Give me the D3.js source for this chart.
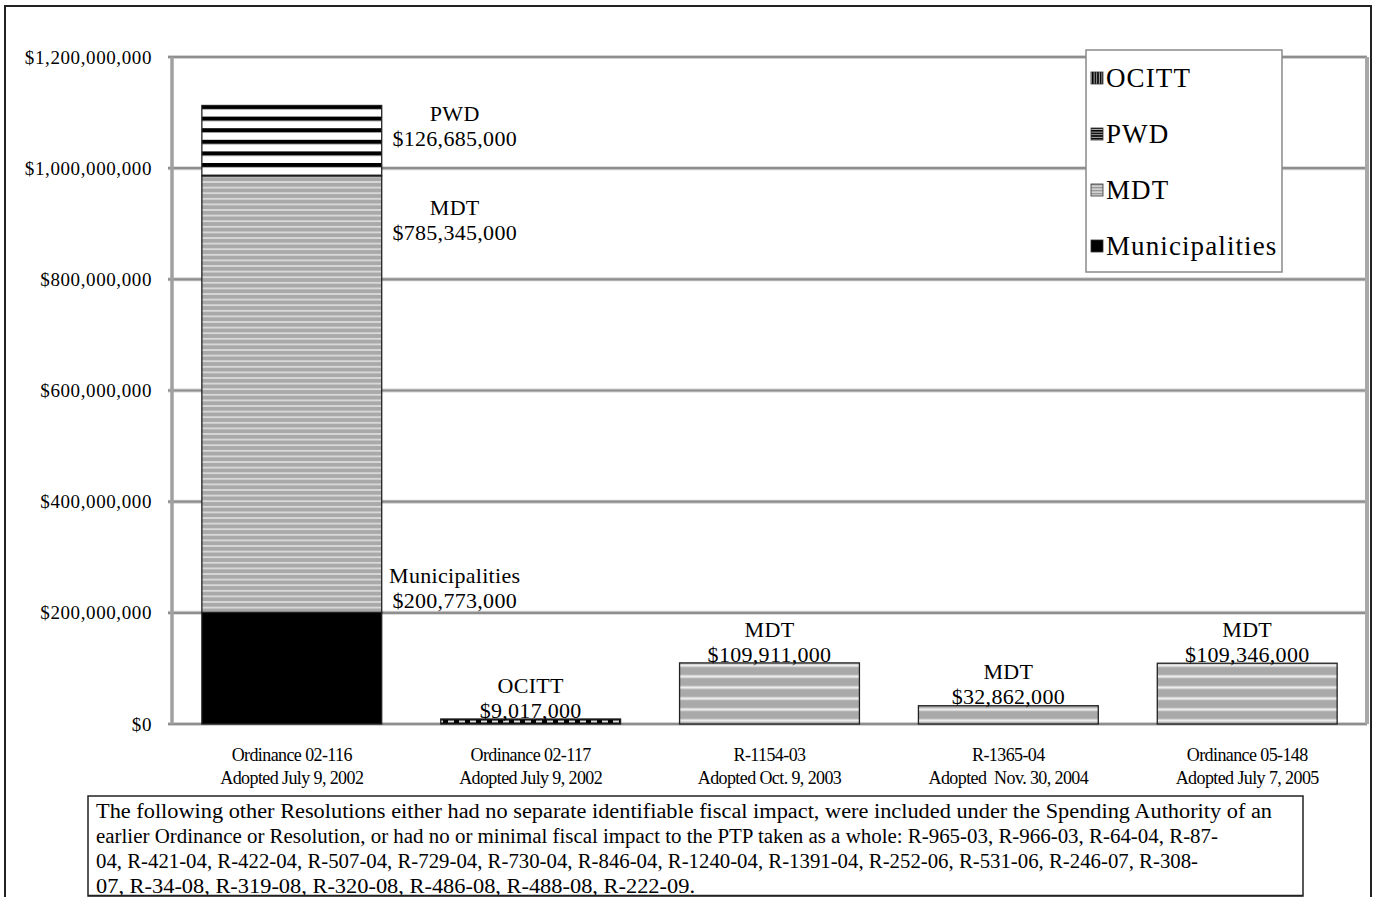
<!DOCTYPE html>
<html><head><meta charset="utf-8">
<script src="https://cdn.jsdelivr.net/npm/d3@7"></script>
<style>
html,body{margin:0;padding:0;background:#fff;}
svg{display:block;font-family:"Liberation Serif","Times New Roman",serif;}
</style></head>
<body><svg id="c" width="1375" height="897"></svg>
<script>
// ---------- data ----------
const catLine1 = ["Ordinance 02-116","Ordinance 02-117","R-1154-03","R-1365-04","Ordinance 05-148"];
const catLine2 = ["Adopted July 9, 2002","Adopted July 9, 2002","Adopted Oct. 9, 2003","Adopted  Nov. 30, 2004","Adopted July 7, 2005"];
const municipalities = [200773000, 0, 0, 0, 0];
const mdt            = [785345000, 0, 109911000, 32862000, 109346000];
const pwd            = [126685000, 0, 0, 0, 0];
const ocitt          = [0, 9017000, 0, 0, 0];
const seriesNames = ["Municipalities","MDT","PWD","OCITT"];
const yTicks = [0, 200000000, 400000000, 600000000, 800000000, 1000000000, 1200000000];
const footLines = [
 "The following other Resolutions either had no separate identifiable fiscal impact, were included under the Spending Authority of an",
 "earlier Ordinance or Resolution, or had no or minimal fiscal impact to the PTP taken as a whole: R-965-03, R-966-03, R-64-04, R-87-",
 "04, R-421-04, R-422-04, R-507-04, R-729-04, R-730-04, R-846-04, R-1240-04, R-1391-04, R-252-06, R-531-06, R-246-07, R-308-",
 "07, R-34-08, R-319-08, R-320-08, R-486-08, R-488-08, R-222-09."
];

// ---------- layout ----------
const svg = d3.select("#c");
const L = 172, R = 1367, T = 57, B = 724;
const x = d3.scaleBand().domain(d3.range(catLine1.length)).range([L, R]).paddingInner(0.247).paddingOuter(0.125);
const y = d3.scaleLinear().domain([0, 1200000000]).range([B, T]);
const fmt = v => "$" + d3.format(",")(v);

// patterns
const defs = svg.append("defs");
function mdtPattern(id, period){
  const p = defs.append("pattern").attr("id", id).attr("patternUnits","userSpaceOnUse")
    .attr("width", 8).attr("height", period);
  p.append("rect").attr("width",8).attr("height",period).attr("fill","#a9a9a9");
  p.append("rect").attr("y", period*0.33).attr("width",8).attr("height",period*0.34).attr("fill","#c6c6c6");
  p.append("rect").attr("y", period*0.42).attr("width",8).attr("height",period*0.16).attr("fill","#ededed");
}
mdtPattern("mdtS", 5.6);
mdtPattern("mdtL", 11);
const pw = defs.append("pattern").attr("id","pwdP").attr("patternUnits","userSpaceOnUse").attr("width",8).attr("height",11.6).attr("y",105);
pw.append("rect").attr("width",8).attr("height",11.6).attr("fill","#fff");
pw.append("rect").attr("width",8).attr("height",4.2).attr("fill","#000");
const oc = defs.append("pattern").attr("id","ocP").attr("patternUnits","userSpaceOnUse").attr("width",11).attr("height",8).attr("x",412).attr("y",718);
oc.append("rect").attr("width",11).attr("height",8).attr("fill","#000");
oc.append("rect").attr("x",3).attr("y",2.5).attr("width",6).attr("height",2).attr("fill","#ddd");
const ocL = defs.append("pattern").attr("id","ocLeg").attr("patternUnits","userSpaceOnUse").attr("width",2.6).attr("height",8);
ocL.append("rect").attr("width",2.6).attr("height",8).attr("fill","#000");
ocL.append("rect").attr("x",1.6).attr("width",0.9).attr("height",8).attr("fill","#ccc");
const pwL = defs.append("pattern").attr("id","pwLeg").attr("patternUnits","userSpaceOnUse").attr("width",8).attr("height",2.6).attr("y",130);
pwL.append("rect").attr("width",8).attr("height",2.6).attr("fill","#000");
pwL.append("rect").attr("y",1.6).attr("width",8).attr("height",0.9).attr("fill","#ccc");
const mdL = defs.append("pattern").attr("id","mdLeg").attr("patternUnits","userSpaceOnUse").attr("width",8).attr("height",3).attr("y",184);
mdL.append("rect").attr("width",8).attr("height",3).attr("fill","#999");
mdL.append("rect").attr("y",1.5).attr("width",8).attr("height",1.2).attr("fill","#e8e8e8");
defs.append("clipPath").attr("id","footClip").append("rect").attr("x",88).attr("y",796).attr("width",1215).attr("height",99);

// outer frame
svg.append("rect").attr("x",5).attr("y",6).attr("width",1366).attr("height",900)
  .attr("fill","none").attr("stroke","#222").attr("stroke-width",2);

// gridlines
const grid = svg.append("g");
grid.selectAll("line.g1").data(yTicks).join("line").attr("class","g1")
  .attr("x1", L-4).attr("x2", R).attr("y1", d=>y(d)).attr("y2", d=>y(d))
  .attr("stroke","#d2d2d2").attr("stroke-width",4);
grid.selectAll("line.g2").data(yTicks).join("line").attr("class","g2")
  .attr("x1", L-4).attr("x2", R).attr("y1", d=>y(d)).attr("y2", d=>y(d))
  .attr("stroke","#8e8e8e").attr("stroke-width",2.2);
svg.append("line").attr("x1",L).attr("x2",L).attr("y1",T).attr("y2",B).attr("stroke","#a0a0a0").attr("stroke-width",3.5);
svg.append("line").attr("x1",R).attr("x2",R).attr("y1",T).attr("y2",B).attr("stroke","#a8a8a8").attr("stroke-width",4);

// y axis labels
const yAxis = d3.axisLeft(y).tickValues(yTicks).tickFormat(fmt).tickSize(0).tickPadding(0);
const ga = svg.append("g").attr("transform",`translate(152,0)`).call(yAxis);
ga.select(".domain").remove();
ga.selectAll("text").attr("font-family","Liberation Serif").attr("font-size",19).attr("letter-spacing",0.6).attr("fill","#000");

// stacked bars
const rows = catLine1.map((c,i)=>({i, Municipalities:municipalities[i], MDT:mdt[i], PWD:pwd[i], OCITT:ocitt[i]}));
const stack = d3.stack().keys(seriesNames)(rows);
const fillFor = (key, i) => key==="Municipalities" ? "#000" : key==="PWD" ? "url(#pwdP)" : key==="OCITT" ? "url(#ocP)" : (i===0 ? "url(#mdtS)" : "url(#mdtL)");
stack.forEach(s=>{
  svg.append("g").selectAll("rect").data(s.filter(d=>d[1]-d[0]>0)).join("rect")
    .attr("x", d=>x(d.data.i)).attr("width", x.bandwidth())
    .attr("y", d=>y(d[1])).attr("height", d=>y(d[0])-y(d[1]))
    .attr("fill", d=>fillFor(s.key, d.data.i))
    .attr("stroke","#222").attr("stroke-width",1.3);
});

// data labels
const firstDy = {PWD: 8, MDT: 31, Municipalities: -37};
const lab = svg.append("g").attr("font-family","Liberation Serif").attr("font-size",22).attr("letter-spacing",0.3).attr("text-anchor","middle");
stack.forEach(s=>{
  s.forEach(d=>{
    const v = d[1]-d[0]; if (v<=0) return;
    const i = d.data.i;
    let cx, c1;
    if (i===0){ cx = x(i)+x.bandwidth()+73; c1 = y(d[1]) + firstDy[s.key]; }
    else { cx = x(i)+x.bandwidth()/2; c1 = y(d[1]) - 34; }
    lab.append("text").attr("x",cx).attr("y",c1).attr("dy","0.35em").text(s.key);
    lab.append("text").attr("x",cx).attr("y",c1+25).attr("dy","0.35em").text(fmt(v));
  });
});

// x labels
const xl = svg.append("g").attr("font-family","Liberation Serif").attr("font-size",18).attr("text-anchor","middle");
catLine1.forEach((c,i)=>{
  const cx = x(i)+x.bandwidth()/2;
  xl.append("text").attr("x",cx).attr("y",755).attr("dy","0.35em").attr("letter-spacing",-0.6).text(c);
  xl.append("text").attr("x",cx).attr("y",778).attr("dy","0.35em").attr("letter-spacing",-0.6).attr("xml:space","preserve").text(catLine2[i]);
});

// legend
const lg = svg.append("g");
lg.append("rect").attr("x",1086).attr("y",50).attr("width",196).attr("height",222).attr("fill","#fff").attr("stroke","#8a8a8a").attr("stroke-width",1.5);
const legItems = ["OCITT","PWD","MDT","Municipalities"];
const legFill = {OCITT:"url(#ocLeg)", PWD:"url(#pwLeg)", MDT:"url(#mdLeg)", Municipalities:"#000"};
const legY = d3.scalePoint().domain(legItems).range([78,246]);
legItems.forEach(k=>{
  lg.append("rect").attr("x",1091).attr("y",legY(k)-6).attr("width",12).attr("height",12).attr("fill",legFill[k]).attr("stroke","#333").attr("stroke-width",0.8);
  lg.append("text").attr("x",1106).attr("y",legY(k)).attr("dy","0.35em").attr("font-family","Liberation Serif").attr("font-size",27).attr("letter-spacing",1.1).text(k);
});

// footnote box
svg.append("rect").attr("x",88).attr("y",796).attr("width",1215).attr("height",100).attr("fill","#fff").attr("stroke","#222").attr("stroke-width",1.5);
const ft = svg.append("g").attr("font-family","Liberation Serif").attr("font-size",20).attr("clip-path","url(#footClip)");
const ftLen = [1176, 1122, 1102, 599];
footLines.forEach((t,i)=>{
  ft.append("text").attr("x",96).attr("y",818 + i*25).text(t)
    .attr("textLength",ftLen[i]).attr("lengthAdjust","spacingAndGlyphs");
});
svg.append("line").attr("x1",88).attr("x2",1303).attr("y1",895.5).attr("y2",895.5).attr("stroke","#222").attr("stroke-width",1.5);
</script></body></html>
